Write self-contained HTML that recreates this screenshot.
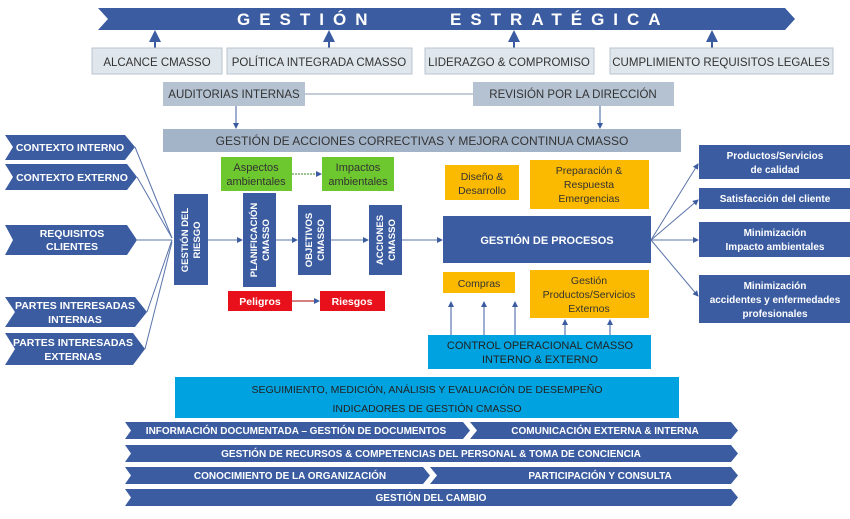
<!DOCTYPE html>
<html><head><meta charset="utf-8"><style>
body{margin:0;width:850px;height:514px;background:#fff;overflow:hidden;font-family:"Liberation Sans",sans-serif;}
</style></head><body>
<svg width="850" height="514" xmlns="http://www.w3.org/2000/svg" font-family="Liberation Sans, sans-serif">
<defs><marker id="a" markerWidth="6" markerHeight="6" refX="5" refY="3" orient="auto"><path d="M0,0 L6,3 L0,6z" fill="#3b5ca0"/></marker></defs>
<g fill="#3b5ca0">
<polygon points="98,8 785,8 795,19 785,30 98,30 108,19"/>
</g>
<text x="237" y="25" fill="#fff" font-size="17" font-weight="bold" letter-spacing="9">GESTIÓN</text>
<text x="450" y="25" fill="#fff" font-size="17" font-weight="bold" letter-spacing="9">ESTRATÉGICA</text>
<g stroke="#3b5ca0" stroke-width="2" fill="none" marker-end="url(#a)">
<line x1="155" y1="48" x2="155" y2="32"/><line x1="329" y1="48" x2="329" y2="32"/><line x1="514" y1="48" x2="514" y2="32"/><line x1="712" y1="48" x2="712" y2="32"/>
</g>
<g fill="#dfe6ec" stroke="#b8c4d0">
<rect x="92" y="48" width="130" height="26"/><rect x="227" y="48" width="185" height="26"/><rect x="425" y="48" width="169" height="26"/><rect x="610" y="48" width="223" height="26"/>
</g>
<g font-size="11.5" fill="#333" text-anchor="middle">
<text x="157" y="66">ALCANCE CMASSO</text><text x="319" y="66">POLÍTICA INTEGRADA CMASSO</text><text x="509" y="66">LIDERAZGO &amp; COMPROMISO</text><text x="721" y="66">CUMPLIMIENTO REQUISITOS LEGALES</text>
</g>
<line x1="305" y1="94" x2="473" y2="94" stroke="#8a9ab0"/>
<g fill="#b4c2d2"><rect x="163" y="82" width="142" height="24"/><rect x="473" y="82" width="201" height="24"/></g>
<g font-size="11.5" fill="#333" text-anchor="middle"><text x="234" y="98">AUDITORIAS INTERNAS</text><text x="573" y="98">REVISIÓN POR LA DIRECCIÓN</text></g>
<g stroke="#3b5ca0" stroke-width="1" marker-end="url(#a)"><line x1="236" y1="106" x2="236" y2="128"/><line x1="600" y1="106" x2="600" y2="128"/></g>
<rect x="163" y="129" width="518" height="23" fill="#a4b4c8"/>
<text x="422" y="145" font-size="12" fill="#333" text-anchor="middle">GESTIÓN DE ACCIONES CORRECTIVAS Y MEJORA CONTINUA CMASSO</text>
<g stroke="#5a74aa" stroke-width="1"><line x1="135" y1="147" x2="172" y2="238"/><line x1="137" y1="177" x2="172" y2="238"/><line x1="137" y1="240" x2="172" y2="240"/><line x1="147" y1="312" x2="172" y2="240"/><line x1="145" y1="349" x2="172" y2="242"/></g>
<g fill="#3b5ca0">
<polygon points="5,135 125,135 135,147 125,160 5,160 13,147"/>
<polygon points="5,164 127,164 137,177 127,190 5,190 13,177"/>
<polygon points="5,225 127,225 137,240 127,255 5,255 13,240"/>
<polygon points="5,297 135,297 147,312 135,327 5,327 15,312"/>
<polygon points="5,333 133,333 145,349 133,365 5,365 15,349"/>
</g>
<g font-size="10.5" font-weight="bold" fill="#fff" text-anchor="middle">
<text x="70" y="151">CONTEXTO INTERNO</text><text x="72" y="181">CONTEXTO EXTERNO</text>
<text x="72" y="237">REQUISITOS</text><text x="72" y="250">CLIENTES</text>
<text x="75" y="309">PARTES INTERESADAS</text><text x="75" y="323">INTERNAS</text>
<text x="73" y="346">PARTES INTERESADAS</text><text x="73" y="360">EXTERNAS</text>
</g>
<g stroke="#5a74aa" stroke-width="1" marker-end="url(#a)">
<line x1="208" y1="240" x2="242" y2="240"/><line x1="276" y1="240" x2="297" y2="240"/><line x1="331" y1="240" x2="368" y2="240"/><line x1="402" y1="240" x2="442" y2="240"/>
</g>
<g fill="#3b5ca0">
<rect x="174" y="194" width="34" height="91"/><rect x="243" y="193" width="33" height="94"/><rect x="298" y="205" width="33" height="70"/><rect x="369" y="205" width="33" height="70"/>
</g>
<g font-size="9.5" font-weight="bold" fill="#fff" text-anchor="middle">
<text transform="translate(188,240) rotate(-90)">GESTIÓN DEL</text><text transform="translate(200,240) rotate(-90)">RIESGO</text>
<text transform="translate(257,240) rotate(-90)">PLANIFICACIÓN</text><text transform="translate(269,240) rotate(-90)">CMASSO</text>
<text transform="translate(312,240) rotate(-90)">OBJETIVOS</text><text transform="translate(324,240) rotate(-90)">CMASSO</text>
<text transform="translate(383,240) rotate(-90)">ACCIONES</text><text transform="translate(395,240) rotate(-90)">CMASSO</text>
</g>
<g fill="#6dc72e"><rect x="221" y="157" width="71" height="34"/><rect x="322" y="157" width="72" height="34"/></g>
<line x1="292" y1="174" x2="321" y2="174" stroke="#3d8a20" stroke-dasharray="2,1" marker-end="url(#a)"/>
<g font-size="11" fill="#333" text-anchor="middle"><text x="256" y="171">Aspectos</text><text x="256" y="185">ambientales</text><text x="358" y="171">Impactos</text><text x="358" y="185">ambientales</text></g>
<g fill="#e8111b"><rect x="228" y="291" width="64" height="20"/><rect x="320" y="291" width="65" height="20"/></g>
<line x1="292" y1="301" x2="319" y2="301" stroke="#a00" marker-end="url(#a)"/>
<g font-size="10.5" font-weight="bold" fill="#fff" text-anchor="middle"><text x="260" y="305">Peligros</text><text x="352" y="305">Riesgos</text></g>
<rect x="443" y="216" width="208" height="47" fill="#3b5ca0"/>
<text x="547" y="244" font-size="11" font-weight="bold" fill="#fff" text-anchor="middle">GESTIÓN DE PROCESOS</text>
<g fill="#fbb900"><rect x="445" y="165" width="74" height="35"/><rect x="530" y="160" width="119" height="49"/><rect x="443" y="272" width="72" height="21"/><rect x="530" y="270" width="119" height="48"/></g>
<g font-size="10.5" fill="#333" text-anchor="middle">
<text x="482" y="180">Diseño &amp;</text><text x="482" y="194">Desarrollo</text>
<text x="589" y="174">Preparación &amp;</text><text x="589" y="188">Respuesta</text><text x="589" y="202">Emergencias</text>
<text x="479" y="287">Compras</text>
<text x="589" y="284">Gestión</text><text x="589" y="298">Productos/Servicios</text><text x="589" y="312">Externos</text>
</g>
<g stroke="#3b5ca0" marker-end="url(#a)"><line x1="451" y1="335" x2="451" y2="302"/><line x1="484" y1="335" x2="484" y2="302"/><line x1="515" y1="335" x2="515" y2="302"/><line x1="565" y1="335" x2="565" y2="320"/><line x1="610" y1="335" x2="610" y2="320"/></g>
<rect x="428" y="335" width="223" height="34" fill="#00a3e0"/>
<g font-size="11" fill="#222" text-anchor="middle"><text x="540" y="349">CONTROL OPERACIONAL CMASSO</text><text x="540" y="363">INTERNO &amp; EXTERNO</text></g>
<g stroke="#5a74aa" marker-end="url(#a)"><line x1="651" y1="240" x2="698" y2="164"/><line x1="651" y1="240" x2="698" y2="200"/><line x1="651" y1="240" x2="698" y2="240"/><line x1="651" y1="240" x2="698" y2="296"/></g>
<g fill="#3b5ca0"><rect x="699" y="145" width="151" height="34"/><rect x="699" y="188" width="151" height="21"/><rect x="699" y="222" width="151" height="35"/><rect x="699" y="275" width="151" height="48"/></g>
<g font-size="10" font-weight="bold" fill="#fff" text-anchor="middle">
<text x="775" y="159">Productos/Servicios</text><text x="775" y="173">de calidad</text>
<text x="775" y="202">Satisfacción del cliente</text>
<text x="775" y="236">Minimización</text><text x="775" y="250">Impacto ambientales</text>
<text x="775" y="289">Minimización</text><text x="775" y="303">accidentes y enfermedades</text><text x="775" y="317">profesionales</text>
</g>
<rect x="175" y="377" width="504" height="41" fill="#00a3e0"/>
<g font-size="10.5" fill="#222" text-anchor="middle"><text x="427" y="393">SEGUIMIENTO, MEDICIÓN, ANÁLISIS Y EVALUACIÓN DE DESEMPEÑO</text><text x="427" y="412">INDICADORES DE GESTIÓN CMASSO</text></g>
<g fill="#3b5ca0">
<polygon points="125,422 463,422 470,430.5 463,439 125,439 131,430.5"/>
<polygon points="470,422 731,422 738,430.5 731,439 470,439 477,430.5"/>
<polygon points="125,445 731,445 738,453.5 731,462 125,462 131,453.5"/>
<polygon points="125,467 423,467 430,475.5 423,484 125,484 131,475.5"/>
<polygon points="430,467 731,467 738,475.5 731,484 430,484 437,475.5"/>
<polygon points="125,489 731,489 738,497.5 731,506 125,506 131,497.5"/>
</g>
<g font-size="10" font-weight="bold" fill="#fff" text-anchor="middle">
<text x="296" y="434">INFORMACIÓN DOCUMENTADA – GESTIÓN DE DOCUMENTOS</text>
<text x="605" y="434">COMUNICACIÓN EXTERNA &amp; INTERNA</text>
<text x="431" y="457">GESTIÓN DE RECURSOS &amp; COMPETENCIAS DEL PERSONAL &amp; TOMA DE CONCIENCIA</text>
<text x="290" y="479">CONOCIMIENTO DE LA ORGANIZACIÓN</text>
<text x="600" y="479">PARTICIPACIÓN Y CONSULTA</text>
<text x="431" y="501">GESTIÓN DEL CAMBIO</text>
</g>
</svg>
</body></html>
